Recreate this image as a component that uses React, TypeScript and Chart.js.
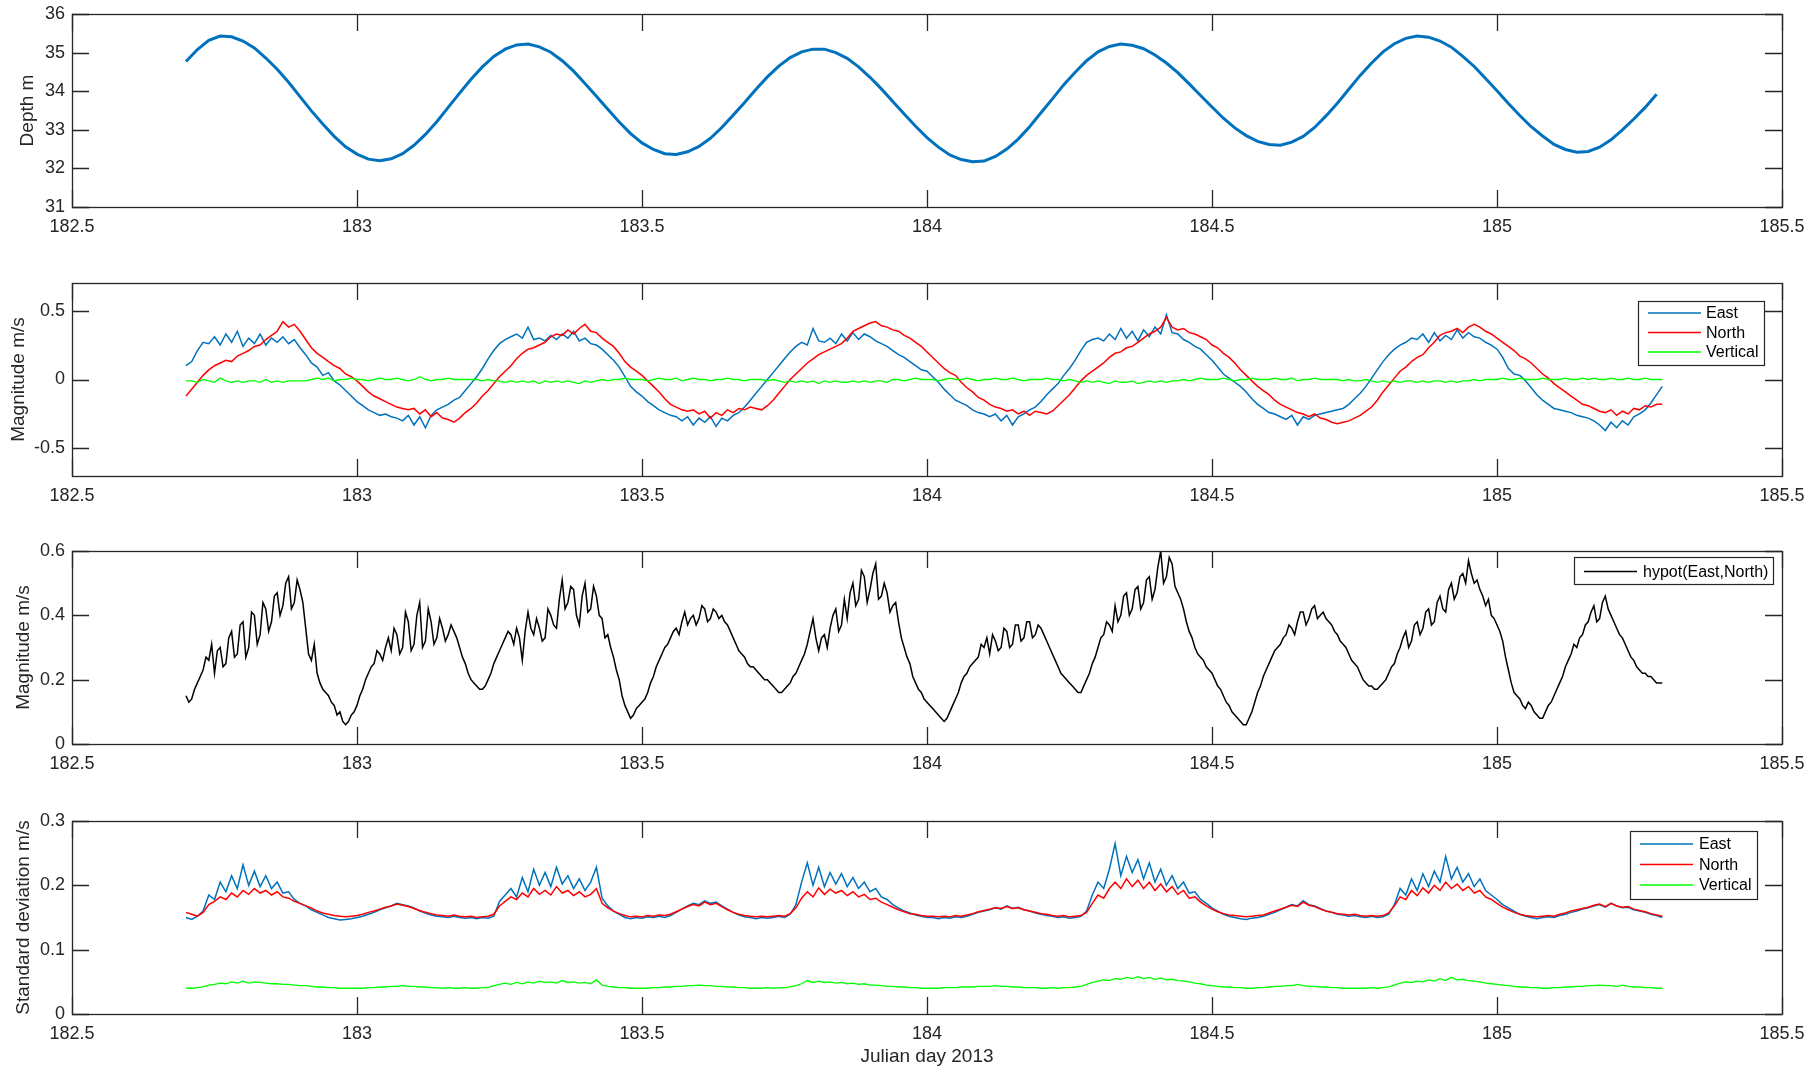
import React, { useEffect, useRef } from "react";
import { Chart, registerables } from "chart.js";

Chart.register(...registerables);

const FONT = '"Liberation Sans", Arial, Helvetica, sans-serif';
const TEXT = "#262626";
const BLUE = "#0072BD";
const RED = "#FF0000";
const GREEN = "#00FF00";

// ---------- axes ----------
const X_MIN = 182.5;
const X_MAX = 185.5;
const X_TICKS = [182.5, 183, 183.5, 184, 184.5, 185, 185.5];
const X_LABEL = "Julian day 2013";

// ---------- sampling grids ----------
const DEPTH_T0 = 182.7;
const DEPTH_DT = 0.02;
const VEL_T0 = 182.7;
const VEL_DT = 0.01;
const HYPOT_T0 = 182.7;
const HYPOT_DT = 0.005;

// ---------- panel 1: depth (m) ----------
const DEPTH = [
  34.77, 35.08, 35.32, 35.43, 35.41, 35.30, 35.12, 34.86, 34.57, 34.23,
  33.86, 33.49, 33.15, 32.83, 32.56, 32.37, 32.24, 32.20, 32.25, 32.38,
  32.60, 32.88, 33.21, 33.58, 33.95, 34.31, 34.63, 34.90, 35.09, 35.20,
  35.22, 35.15, 35.01, 34.79, 34.52, 34.20, 33.87, 33.53, 33.20, 32.90,
  32.66, 32.49, 32.38, 32.36, 32.43, 32.57, 32.78, 33.06, 33.38, 33.71,
  34.05, 34.37, 34.65, 34.87, 35.02, 35.09, 35.09, 35.00, 34.85, 34.63,
  34.36, 34.06, 33.73, 33.41, 33.09, 32.80, 32.55, 32.35, 32.23, 32.17,
  32.19, 32.31, 32.50, 32.76, 33.08, 33.44, 33.80, 34.17, 34.49, 34.79,
  35.02, 35.16, 35.22, 35.19, 35.10, 34.94, 34.73, 34.48, 34.19, 33.89,
  33.59, 33.30, 33.05, 32.85, 32.70, 32.62, 32.60, 32.68, 32.83, 33.06,
  33.36, 33.69, 34.05, 34.41, 34.73, 35.02, 35.23, 35.37, 35.43, 35.40,
  35.30, 35.14, 34.90, 34.64, 34.33, 34.01, 33.68, 33.37, 33.08, 32.84,
  32.62, 32.49, 32.42, 32.44, 32.55, 32.74, 33.00, 33.28, 33.58, 33.92,
];

// ---------- panel 2: velocity components (m/s) ----------
const EAST = [
  0.10, 0.13, 0.21, 0.27, 0.26, 0.31, 0.25, 0.33, 0.27, 0.35,
  0.24, 0.30, 0.26, 0.33, 0.25, 0.30, 0.27, 0.31, 0.26, 0.29,
  0.23, 0.18, 0.12, 0.09, 0.03, 0.05, -0.01, -0.04, -0.08, -0.12,
  -0.16, -0.19, -0.22, -0.24, -0.26, -0.25, -0.27, -0.28, -0.30, -0.26,
  -0.33, -0.27, -0.35, -0.26, -0.22, -0.20, -0.18, -0.15, -0.13, -0.08,
  -0.03, 0.02, 0.08, 0.15, 0.21, 0.26, 0.29, 0.31, 0.33, 0.30,
  0.38, 0.29, 0.30, 0.28, 0.32, 0.29, 0.33, 0.30, 0.35, 0.28,
  0.30, 0.26, 0.25, 0.22, 0.18, 0.14, 0.09, 0.02, -0.05, -0.09,
  -0.12, -0.16, -0.19, -0.22, -0.24, -0.26, -0.27, -0.30, -0.27, -0.33,
  -0.28, -0.31, -0.27, -0.34, -0.28, -0.30, -0.26, -0.24, -0.20, -0.15,
  -0.10, -0.05, 0.00, 0.05, 0.10, 0.15, 0.20, 0.24, 0.27, 0.25,
  0.37, 0.28, 0.27, 0.30, 0.26, 0.33, 0.28, 0.34, 0.29, 0.33,
  0.31, 0.28, 0.26, 0.24, 0.21, 0.18, 0.16, 0.13, 0.10, 0.07,
  0.06, 0.02, -0.02, -0.07, -0.11, -0.15, -0.17, -0.19, -0.22, -0.24,
  -0.25, -0.27, -0.25, -0.30, -0.26, -0.33, -0.27, -0.25, -0.22, -0.20,
  -0.16, -0.11, -0.07, -0.03, 0.03, 0.08, 0.14, 0.21, 0.27, 0.29,
  0.30, 0.28, 0.33, 0.29, 0.37, 0.30, 0.35, 0.28, 0.36, 0.31,
  0.38, 0.33, 0.47, 0.34, 0.33, 0.29, 0.27, 0.24, 0.22, 0.18,
  0.14, 0.09, 0.04, 0.01, -0.02, -0.05, -0.09, -0.14, -0.18, -0.21,
  -0.24, -0.25, -0.27, -0.29, -0.26, -0.33, -0.27, -0.29, -0.26, -0.25,
  -0.24, -0.23, -0.22, -0.21, -0.18, -0.14, -0.10, -0.05, 0.01, 0.07,
  0.13, 0.18, 0.22, 0.25, 0.27, 0.30, 0.29, 0.33, 0.27, 0.34,
  0.28, 0.32, 0.29, 0.36, 0.30, 0.34, 0.31, 0.30, 0.27, 0.25,
  0.22, 0.16, 0.08, 0.04, 0.03, -0.01, -0.06, -0.11, -0.15, -0.18,
  -0.21, -0.22, -0.23, -0.24, -0.26, -0.27, -0.28, -0.30, -0.33, -0.37,
  -0.31, -0.35, -0.30, -0.33, -0.27, -0.25, -0.22, -0.17, -0.11, -0.05,
];

const NORTH = [
  -0.12, -0.07, -0.02, 0.03, 0.07, 0.10, 0.12, 0.14, 0.13, 0.17,
  0.19, 0.21, 0.24, 0.25, 0.29, 0.32, 0.35, 0.42, 0.38, 0.40,
  0.35, 0.29, 0.23, 0.19, 0.16, 0.13, 0.10, 0.08, 0.04, 0.02,
  -0.01, -0.05, -0.09, -0.12, -0.14, -0.16, -0.18, -0.20, -0.21, -0.22,
  -0.21, -0.25, -0.22, -0.27, -0.24, -0.28, -0.29, -0.31, -0.28, -0.24,
  -0.21, -0.17, -0.12, -0.08, -0.03, 0.02, 0.06, 0.10, 0.15, 0.19,
  0.22, 0.23, 0.25, 0.27, 0.31, 0.33, 0.32, 0.36, 0.33, 0.37,
  0.40, 0.35, 0.34, 0.30, 0.27, 0.24, 0.19, 0.13, 0.09, 0.06,
  0.03, -0.01, -0.05, -0.09, -0.14, -0.18, -0.20, -0.22, -0.23, -0.22,
  -0.25, -0.23, -0.28, -0.24, -0.26, -0.22, -0.24, -0.21, -0.22, -0.20,
  -0.21, -0.22, -0.19, -0.15, -0.10, -0.05, 0.00, 0.04, 0.08, 0.12,
  0.15, 0.18, 0.20, 0.22, 0.24, 0.26, 0.30, 0.35, 0.37, 0.39,
  0.41, 0.42, 0.39, 0.38, 0.36, 0.35, 0.32, 0.30, 0.27, 0.24,
  0.20, 0.16, 0.12, 0.08, 0.05, 0.03, -0.02, -0.06, -0.09, -0.13,
  -0.15, -0.18, -0.20, -0.21, -0.23, -0.22, -0.25, -0.23, -0.26, -0.23,
  -0.24, -0.25, -0.23, -0.19, -0.15, -0.11, -0.06, -0.01, 0.03, 0.06,
  0.09, 0.12, 0.16, 0.19, 0.20, 0.23, 0.24, 0.27, 0.30, 0.33,
  0.35, 0.38, 0.45, 0.38, 0.36, 0.37, 0.34, 0.33, 0.31, 0.29,
  0.25, 0.23, 0.19, 0.16, 0.12, 0.07, 0.03, -0.01, -0.05, -0.08,
  -0.11, -0.15, -0.18, -0.20, -0.22, -0.24, -0.25, -0.27, -0.25, -0.28,
  -0.29, -0.31, -0.32, -0.31, -0.30, -0.28, -0.26, -0.23, -0.20, -0.15,
  -0.09, -0.04, 0.01, 0.06, 0.09, 0.13, 0.16, 0.18, 0.23, 0.27,
  0.32, 0.34, 0.35, 0.37, 0.34, 0.38, 0.40, 0.38, 0.35, 0.33,
  0.30, 0.27, 0.24, 0.21, 0.17, 0.15, 0.12, 0.08, 0.04, 0.01,
  -0.03, -0.06, -0.09, -0.12, -0.15, -0.18, -0.19, -0.21, -0.23, -0.24,
  -0.22, -0.26, -0.23, -0.25, -0.21, -0.22, -0.19, -0.20, -0.18, -0.18,
];

const VERTICAL = [
  -0.01, -0.01, -0.02, 0.00, -0.01, -0.02, 0.01, -0.01, -0.02, -0.01,
  -0.02, -0.01, -0.01, -0.02, 0.00, -0.02, -0.01, -0.02, -0.01, -0.01,
  -0.01, -0.01, 0.00, 0.01, 0.00, 0.01, -0.01, 0.00, 0.00, 0.01,
  0.00, 0.00, -0.01, 0.00, 0.01, 0.00, 0.00, 0.01, 0.00, -0.01,
  0.00, 0.02, 0.00, -0.01, 0.00, 0.00, 0.01, 0.00, 0.00, 0.00,
  0.00, 0.00, -0.01, 0.00, -0.01, -0.01, -0.02, -0.01, -0.02, -0.01,
  -0.02, -0.01, -0.03, -0.01, -0.02, -0.01, -0.02, -0.01, -0.02, -0.03,
  -0.01, -0.02, -0.01, 0.00, -0.01, 0.00, 0.00, 0.01, 0.00, 0.00,
  0.00, -0.01, 0.00, 0.01, 0.00, 0.00, 0.01, -0.01, 0.00, 0.01,
  0.00, 0.00, -0.01, 0.00, 0.00, 0.01, 0.00, 0.00, -0.01, 0.00,
  0.00, 0.00, -0.01, 0.00, -0.01, -0.02, -0.01, -0.02, -0.01, -0.02,
  -0.01, -0.03, -0.01, -0.02, -0.01, -0.02, -0.02, -0.01, -0.02, -0.01,
  -0.02, -0.01, -0.01, -0.02, 0.00, 0.00, -0.01, 0.00, 0.01, 0.00,
  0.00, 0.00, -0.01, 0.00, 0.01, 0.00, 0.00, 0.01, 0.00, -0.01,
  0.00, 0.00, 0.01, 0.00, 0.00, 0.01, 0.00, -0.01, 0.00, 0.00,
  0.00, 0.01, 0.00, 0.00, -0.01, 0.00, -0.01, -0.02, -0.01, -0.02,
  -0.01, -0.02, -0.03, -0.01, -0.02, -0.02, -0.01, -0.03, -0.02, -0.01,
  -0.02, -0.01, -0.02, -0.01, -0.01, 0.00, -0.01, 0.00, 0.01, 0.00,
  0.00, 0.00, 0.01, 0.00, -0.01, 0.00, 0.00, 0.01, 0.00, 0.00,
  0.00, 0.01, 0.00, 0.00, 0.01, -0.01, 0.00, 0.00, 0.01, 0.00,
  0.00, 0.00, 0.00, -0.01, 0.00, -0.01, -0.01, 0.00, -0.01, -0.02,
  -0.01, -0.02, -0.01, -0.02, -0.01, -0.01, -0.02, -0.01, -0.02, -0.01,
  -0.01, -0.02, -0.01, -0.02, -0.01, -0.01, 0.00, -0.01, 0.00, 0.00,
  0.00, 0.01, 0.00, 0.00, 0.01, 0.00, 0.00, 0.00, 0.01, 0.00,
  0.00, 0.00, 0.01, 0.00, 0.00, 0.01, 0.00, 0.01, 0.00, 0.00,
  0.01, 0.00, 0.00, 0.01, 0.00, 0.00, 0.01, 0.00, 0.00, 0.00,
];

// ---------- panel 3: horizontal speed (m/s), 0.005-day samples ----------
const HYPOT = [
  0.15, 0.13, 0.14, 0.17, 0.19, 0.21, 0.23, 0.27, 0.26, 0.31, 0.22, 0.29, 0.30, 0.24, 0.25, 0.33, 0.35, 0.27, 0.28, 0.37,
  0.38, 0.27, 0.30, 0.41, 0.40, 0.31, 0.34, 0.44, 0.42, 0.35, 0.38, 0.46, 0.47, 0.40, 0.43, 0.50, 0.52, 0.42, 0.44, 0.51,
  0.48, 0.44, 0.36, 0.28, 0.26, 0.31, 0.22, 0.19, 0.17, 0.16, 0.15, 0.13, 0.12, 0.09, 0.10, 0.07, 0.06, 0.07, 0.09, 0.10,
  0.12, 0.15, 0.17, 0.20, 0.22, 0.24, 0.25, 0.29, 0.28, 0.26, 0.30, 0.33, 0.29, 0.36, 0.34, 0.28, 0.30, 0.41, 0.38, 0.29,
  0.31, 0.40, 0.44, 0.30, 0.32, 0.42, 0.38, 0.31, 0.33, 0.39, 0.36, 0.32, 0.34, 0.37, 0.35, 0.33, 0.30, 0.27, 0.25, 0.22,
  0.20, 0.19, 0.18, 0.17, 0.17, 0.18, 0.20, 0.22, 0.25, 0.27, 0.29, 0.31, 0.33, 0.35, 0.34, 0.31, 0.36, 0.33, 0.26, 0.35,
  0.41, 0.36, 0.34, 0.39, 0.36, 0.32, 0.33, 0.42, 0.40, 0.37, 0.36, 0.45, 0.51, 0.42, 0.44, 0.49, 0.48, 0.40, 0.37, 0.46,
  0.50, 0.41, 0.42, 0.49, 0.46, 0.40, 0.39, 0.33, 0.34, 0.30, 0.27, 0.23, 0.20, 0.15, 0.12, 0.10, 0.08, 0.09, 0.11, 0.12,
  0.13, 0.14, 0.16, 0.19, 0.21, 0.24, 0.26, 0.28, 0.30, 0.31, 0.33, 0.35, 0.36, 0.34, 0.38, 0.41, 0.37, 0.39, 0.40, 0.37,
  0.39, 0.43, 0.42, 0.38, 0.39, 0.42, 0.41, 0.39, 0.40, 0.38, 0.37, 0.35, 0.33, 0.31, 0.29, 0.28, 0.27, 0.25, 0.24, 0.24,
  0.23, 0.22, 0.21, 0.20, 0.20, 0.19, 0.18, 0.17, 0.16, 0.16, 0.17, 0.18, 0.19, 0.21, 0.22, 0.24, 0.26, 0.28, 0.31, 0.35,
  0.39, 0.33, 0.29, 0.33, 0.34, 0.30, 0.36, 0.40, 0.42, 0.35, 0.37, 0.45, 0.39, 0.47, 0.50, 0.43, 0.45, 0.54, 0.52, 0.44,
  0.48, 0.53, 0.56, 0.45, 0.46, 0.50, 0.47, 0.41, 0.43, 0.44, 0.38, 0.33, 0.30, 0.27, 0.25, 0.21, 0.19, 0.17, 0.16, 0.14,
  0.13, 0.12, 0.11, 0.10, 0.09, 0.08, 0.07, 0.08, 0.10, 0.12, 0.14, 0.16, 0.19, 0.21, 0.22, 0.24, 0.25, 0.26, 0.27, 0.31,
  0.30, 0.33, 0.28, 0.34, 0.32, 0.29, 0.30, 0.36, 0.35, 0.30, 0.31, 0.37, 0.37, 0.32, 0.33, 0.38, 0.38, 0.33, 0.34, 0.37,
  0.36, 0.34, 0.32, 0.30, 0.28, 0.26, 0.24, 0.22, 0.21, 0.20, 0.19, 0.18, 0.17, 0.16, 0.16, 0.18, 0.20, 0.22, 0.25, 0.27,
  0.30, 0.33, 0.34, 0.38, 0.37, 0.35, 0.43, 0.38, 0.40, 0.46, 0.47, 0.40, 0.42, 0.48, 0.49, 0.42, 0.44, 0.51, 0.52, 0.45,
  0.48, 0.55, 0.60, 0.50, 0.52, 0.58, 0.56, 0.49, 0.47, 0.45, 0.42, 0.38, 0.35, 0.33, 0.30, 0.28, 0.27, 0.26, 0.24, 0.23,
  0.22, 0.20, 0.18, 0.17, 0.15, 0.13, 0.12, 0.10, 0.09, 0.08, 0.07, 0.06, 0.06, 0.08, 0.10, 0.13, 0.16, 0.18, 0.21, 0.23,
  0.25, 0.27, 0.29, 0.30, 0.31, 0.33, 0.34, 0.37, 0.36, 0.34, 0.38, 0.41, 0.41, 0.37, 0.39, 0.42, 0.43, 0.39, 0.40, 0.41,
  0.39, 0.38, 0.37, 0.35, 0.34, 0.32, 0.31, 0.30, 0.28, 0.26, 0.25, 0.24, 0.22, 0.20, 0.19, 0.18, 0.18, 0.17, 0.17, 0.18,
  0.19, 0.20, 0.22, 0.24, 0.25, 0.28, 0.30, 0.33, 0.35, 0.30, 0.32, 0.37, 0.38, 0.34, 0.36, 0.41, 0.42, 0.37, 0.38, 0.44,
  0.46, 0.42, 0.41, 0.48, 0.50, 0.45, 0.47, 0.52, 0.53, 0.50, 0.57, 0.53, 0.50, 0.51, 0.48, 0.46, 0.43, 0.45, 0.40, 0.39,
  0.37, 0.35, 0.32, 0.27, 0.23, 0.19, 0.16, 0.15, 0.14, 0.12, 0.11, 0.13, 0.12, 0.10, 0.09, 0.08, 0.08, 0.10, 0.12, 0.13,
  0.15, 0.17, 0.19, 0.21, 0.24, 0.26, 0.28, 0.31, 0.30, 0.33, 0.34, 0.37, 0.38, 0.41, 0.43, 0.38, 0.39, 0.44, 0.46, 0.42,
  0.40, 0.38, 0.36, 0.34, 0.33, 0.31, 0.29, 0.27, 0.26, 0.24, 0.23, 0.22, 0.22, 0.21, 0.21, 0.20, 0.19, 0.19, 0.19,
];

// ---------- panel 4: standard deviations (m/s) ----------
const SD_EAST = [
  0.150, 0.147, 0.152, 0.160, 0.185, 0.178, 0.205, 0.190, 0.215, 0.195,
  0.232, 0.200, 0.222, 0.198, 0.215, 0.195, 0.205, 0.188, 0.190, 0.178,
  0.172, 0.168, 0.162, 0.158, 0.154, 0.150, 0.148, 0.146, 0.147, 0.148,
  0.150, 0.152, 0.155, 0.158, 0.162, 0.165, 0.168, 0.172, 0.170, 0.168,
  0.165, 0.160, 0.157, 0.154, 0.152, 0.151, 0.150, 0.152, 0.150, 0.149,
  0.150, 0.148, 0.150, 0.149, 0.152, 0.175, 0.185, 0.195, 0.182, 0.212,
  0.190, 0.225, 0.200, 0.220, 0.198, 0.228, 0.202, 0.215, 0.195, 0.210,
  0.192, 0.205, 0.228, 0.180, 0.168, 0.160, 0.155, 0.150, 0.148, 0.150,
  0.149, 0.151, 0.150, 0.152, 0.150, 0.153, 0.158, 0.163, 0.168, 0.172,
  0.170, 0.176, 0.172, 0.174, 0.168, 0.163, 0.158, 0.154, 0.151, 0.150,
  0.148, 0.150, 0.149, 0.150, 0.152, 0.150, 0.155, 0.170, 0.205, 0.235,
  0.200, 0.228, 0.198, 0.220, 0.202, 0.218, 0.198, 0.212, 0.195, 0.205,
  0.190, 0.195, 0.182, 0.178, 0.170, 0.165, 0.160, 0.157, 0.154, 0.152,
  0.150, 0.150, 0.148, 0.150, 0.149, 0.151, 0.150, 0.152, 0.155, 0.158,
  0.160, 0.162, 0.165, 0.163, 0.168, 0.164, 0.166, 0.162, 0.160, 0.157,
  0.155, 0.153, 0.152, 0.150, 0.151, 0.149, 0.150, 0.152, 0.160, 0.185,
  0.205, 0.195, 0.225, 0.265, 0.215, 0.245, 0.220, 0.240, 0.210, 0.235,
  0.205, 0.225, 0.200, 0.215, 0.195, 0.205, 0.188, 0.190, 0.178, 0.172,
  0.165, 0.160, 0.155, 0.152, 0.150, 0.148, 0.147, 0.149, 0.150, 0.152,
  0.155, 0.158, 0.162, 0.166, 0.170, 0.168, 0.176, 0.170, 0.168, 0.164,
  0.160, 0.158, 0.155, 0.154, 0.152, 0.153, 0.151, 0.150, 0.152, 0.150,
  0.151, 0.155, 0.170, 0.195, 0.185, 0.210, 0.192, 0.218, 0.198, 0.222,
  0.205, 0.245, 0.210, 0.228, 0.205, 0.218, 0.198, 0.210, 0.192, 0.185,
  0.178, 0.170, 0.165, 0.160, 0.155, 0.152, 0.150, 0.148, 0.150, 0.151,
  0.150, 0.153, 0.155, 0.158, 0.160, 0.163, 0.165, 0.168, 0.170, 0.166,
  0.172, 0.168, 0.165, 0.166, 0.162, 0.160, 0.158, 0.155, 0.153, 0.150,
];

const SD_NORTH = [
  0.158, 0.155, 0.152, 0.158, 0.170, 0.175, 0.182, 0.178, 0.188, 0.182,
  0.192, 0.186, 0.195, 0.188, 0.192, 0.185, 0.190, 0.182, 0.180, 0.175,
  0.172, 0.168, 0.165, 0.160, 0.157, 0.155, 0.153, 0.152, 0.151, 0.152,
  0.153, 0.155, 0.158, 0.160, 0.163, 0.166, 0.168, 0.171, 0.169, 0.167,
  0.164, 0.161, 0.158, 0.156, 0.154, 0.153, 0.152, 0.154, 0.152, 0.151,
  0.152, 0.150, 0.151, 0.152, 0.155, 0.168, 0.175, 0.182, 0.178, 0.188,
  0.182, 0.195, 0.186, 0.192, 0.185, 0.198, 0.188, 0.192, 0.184, 0.190,
  0.182, 0.186, 0.195, 0.172, 0.165, 0.160, 0.156, 0.153, 0.151, 0.152,
  0.151, 0.153, 0.152, 0.154, 0.153, 0.155, 0.159, 0.163, 0.167, 0.170,
  0.168, 0.174, 0.170, 0.172, 0.167, 0.162, 0.158, 0.155, 0.153, 0.152,
  0.151, 0.152, 0.151, 0.152, 0.153, 0.152, 0.156, 0.165, 0.180, 0.190,
  0.182, 0.196, 0.186, 0.194, 0.188, 0.192, 0.184, 0.190, 0.182, 0.186,
  0.178, 0.180, 0.174, 0.170, 0.166, 0.162, 0.159, 0.156, 0.155, 0.153,
  0.152, 0.152, 0.151, 0.152, 0.151, 0.153, 0.152, 0.154, 0.156, 0.159,
  0.161, 0.163, 0.165, 0.164, 0.167, 0.164, 0.165, 0.162, 0.160, 0.158,
  0.156, 0.155, 0.153, 0.152, 0.153, 0.151, 0.152, 0.153, 0.158, 0.172,
  0.185, 0.180, 0.195, 0.205, 0.195, 0.210, 0.198, 0.208, 0.195, 0.205,
  0.192, 0.202, 0.190, 0.198, 0.186, 0.192, 0.180, 0.182, 0.174, 0.168,
  0.163, 0.159, 0.156, 0.154, 0.153, 0.152, 0.151, 0.152, 0.153, 0.154,
  0.157, 0.160, 0.163, 0.166, 0.169, 0.167, 0.174, 0.169, 0.167, 0.163,
  0.160, 0.158, 0.156, 0.155, 0.154, 0.155, 0.153, 0.152, 0.153, 0.152,
  0.153, 0.157, 0.168, 0.182, 0.178, 0.192, 0.184, 0.196, 0.188, 0.200,
  0.192, 0.205, 0.195, 0.202, 0.192, 0.198, 0.188, 0.192, 0.182, 0.178,
  0.172, 0.166, 0.162, 0.158, 0.155, 0.153, 0.152, 0.151, 0.152, 0.153,
  0.152, 0.155, 0.157, 0.160, 0.162, 0.164, 0.166, 0.169, 0.171, 0.167,
  0.172, 0.168, 0.166, 0.167, 0.163, 0.161, 0.159, 0.156, 0.154, 0.152,
];

const SD_VERTICAL = [
  0.040, 0.040, 0.041, 0.042, 0.045, 0.046, 0.048, 0.047, 0.050, 0.048,
  0.051, 0.048, 0.050, 0.049, 0.048, 0.047, 0.047, 0.046, 0.046, 0.045,
  0.044, 0.044, 0.043, 0.042, 0.042, 0.041, 0.041, 0.040, 0.040, 0.040,
  0.040, 0.040, 0.041, 0.041, 0.042, 0.042, 0.043, 0.043, 0.044, 0.043,
  0.043, 0.042, 0.042, 0.041, 0.041, 0.040, 0.041, 0.040, 0.040, 0.041,
  0.040, 0.040, 0.041, 0.041, 0.044, 0.046, 0.048, 0.046, 0.049, 0.047,
  0.050, 0.048, 0.051, 0.049, 0.050, 0.048, 0.052, 0.049, 0.050, 0.048,
  0.049, 0.047, 0.053, 0.045, 0.043, 0.042, 0.041, 0.041, 0.040, 0.040,
  0.040, 0.040, 0.041, 0.041, 0.042, 0.042, 0.043, 0.043, 0.044, 0.044,
  0.045, 0.044, 0.044, 0.043, 0.043, 0.042, 0.042, 0.041, 0.041, 0.040,
  0.040, 0.040, 0.041, 0.040, 0.041, 0.041, 0.042, 0.044, 0.047, 0.052,
  0.049, 0.051, 0.049, 0.050, 0.048, 0.049, 0.047, 0.048, 0.046, 0.047,
  0.045, 0.045, 0.044, 0.043, 0.043, 0.042, 0.042, 0.041, 0.041, 0.040,
  0.040, 0.040, 0.040, 0.041, 0.041, 0.041, 0.042, 0.042, 0.042, 0.043,
  0.043, 0.043, 0.044, 0.043, 0.043, 0.042, 0.042, 0.041, 0.041, 0.041,
  0.040, 0.040, 0.041, 0.040, 0.041, 0.041, 0.042, 0.043, 0.046, 0.049,
  0.051, 0.053, 0.052, 0.055, 0.054, 0.057, 0.055, 0.058, 0.055, 0.057,
  0.054, 0.056, 0.053, 0.054, 0.052, 0.051, 0.050, 0.048, 0.047, 0.045,
  0.044, 0.043, 0.042, 0.042, 0.041, 0.041, 0.040, 0.040, 0.041, 0.041,
  0.042, 0.043, 0.043, 0.044, 0.044, 0.046, 0.044, 0.043, 0.043, 0.042,
  0.042, 0.041, 0.041, 0.040, 0.040, 0.040, 0.040, 0.040, 0.041, 0.040,
  0.041, 0.042, 0.045, 0.048, 0.050, 0.049, 0.051, 0.050, 0.053, 0.051,
  0.055, 0.052, 0.057, 0.053, 0.054, 0.052, 0.051, 0.050, 0.048, 0.047,
  0.046, 0.045, 0.044, 0.043, 0.042, 0.042, 0.041, 0.041, 0.040, 0.040,
  0.041, 0.041, 0.042, 0.042, 0.043, 0.043, 0.044, 0.044, 0.045, 0.044,
  0.044, 0.043, 0.045, 0.043, 0.042, 0.042, 0.041, 0.041, 0.040, 0.040,
];

// ---------- y tick values ----------
const Y1_TICKS = [31, 32, 33, 34, 35, 36];
const Y2_TICKS = [-0.5, 0, 0.5];
const Y3_TICKS = [0, 0.2, 0.4, 0.6];
const Y4_TICKS = [0, 0.1, 0.2, 0.3];

const mk = (vals: number[], t0: number, dt: number) =>
  vals.map((y, i) => ({ x: Math.round((t0 + i * dt) * 10000) / 10000, y }));

type Legend = {
  left: number;
  top: number;
  w: number;
  h: number;
  l0: number;
  l1: number;
  tx: number;
  row0: number;
  gap: number;
};

type Panel = {
  plotTop: number;
  xAxisHeight: number;
  yMin: number;
  yMax: number;
  yTicks: number[];
  yLabel: string;
  yTitlePad: number;
  xTitle: boolean;
  datasets: any[];
  legend?: Legend;
};

const PAD_TOP = 22;
const PLOT_LEFT = 72;
const PAD_RIGHT = 38;
const PLOT_H = 193;
const TICK_LEN = 17;

const fmt = (v: any) => String(Math.round(Number(v) * 1000) / 1000);

function line(label: string, data: any[], color: string, width: number, order: number) {
  return {
    label,
    data,
    borderColor: color,
    backgroundColor: color,
    borderWidth: width,
    pointRadius: 0,
    pointHoverRadius: 0,
    tension: 0,
    fill: false,
    order,
  };
}

function makeFramePlugin(yTicks: number[], legend?: Legend) {
  return {
    id: "frameAndLegend",
    afterDatasetsDraw(chart: any) {
      const { ctx, chartArea: a, scales } = chart;
      const x = scales.x;
      const y = scales.y;
      ctx.save();
      ctx.strokeStyle = TEXT;
      ctx.lineWidth = 1.3;
      ctx.beginPath();
      for (const v of X_TICKS) {
        const px = Math.round(x.getPixelForValue(v)) + 0.5;
        ctx.moveTo(px, a.bottom);
        ctx.lineTo(px, a.bottom - TICK_LEN);
        ctx.moveTo(px, a.top);
        ctx.lineTo(px, a.top + TICK_LEN);
      }
      for (const v of yTicks) {
        const py = Math.round(y.getPixelForValue(v)) + 0.5;
        ctx.moveTo(a.left, py);
        ctx.lineTo(a.left + TICK_LEN, py);
        ctx.moveTo(a.right, py);
        ctx.lineTo(a.right - TICK_LEN, py);
      }
      ctx.stroke();
      ctx.strokeRect(a.left + 0.5, a.top + 0.5, a.right - a.left, a.bottom - a.top);

      if (legend) {
        const bx = a.left + legend.left;
        const by = a.top + legend.top;
        ctx.fillStyle = "#ffffff";
        ctx.fillRect(bx, by, legend.w, legend.h);
        ctx.lineWidth = 1.2;
        ctx.strokeStyle = TEXT;
        ctx.strokeRect(bx + 0.5, by + 0.5, legend.w, legend.h);
        ctx.font = `16px ${FONT}`;
        ctx.textBaseline = "middle";
        ctx.textAlign = "left";
        chart.data.datasets.forEach((ds: any, i: number) => {
          const ly = by + legend.row0 + i * legend.gap;
          ctx.strokeStyle = ds.borderColor;
          ctx.lineWidth = 1.6;
          ctx.beginPath();
          ctx.moveTo(bx + legend.l0, ly);
          ctx.lineTo(bx + legend.l1, ly);
          ctx.stroke();
          ctx.fillStyle = "#000000";
          ctx.fillText(ds.label, bx + legend.tx, ly + 1);
        });
      }
      ctx.restore();
    },
  };
}

const PANELS: Panel[] = [
  {
    plotTop: 14,
    xAxisHeight: 44,
    yMin: 31,
    yMax: 36,
    yTicks: Y1_TICKS,
    yLabel: "Depth m",
    yTitlePad: 16.5,
    xTitle: false,
    datasets: [line("Depth", mk(DEPTH, DEPTH_T0, DEPTH_DT), BLUE, 3, 1)],
  },
  {
    plotTop: 283,
    xAxisHeight: 44,
    yMin: -0.7,
    yMax: 0.7,
    yTicks: Y2_TICKS,
    yLabel: "Magnitude m/s",
    yTitlePad: 7,
    xTitle: false,
    datasets: [
      line("East", mk(EAST, VEL_T0, VEL_DT), BLUE, 1.5, 3),
      line("North", mk(NORTH, VEL_T0, VEL_DT), RED, 1.5, 2),
      line("Vertical", mk(VERTICAL, VEL_T0, VEL_DT), GREEN, 1.3, 1),
    ],
    legend: { left: 1566, top: 18, w: 126, h: 64, l0: 10, l1: 63, tx: 68, row0: 12, gap: 19.5 },
  },
  {
    plotTop: 551,
    xAxisHeight: 44,
    yMin: 0,
    yMax: 0.6,
    yTicks: Y3_TICKS,
    yLabel: "Magnitude m/s",
    yTitlePad: 12.5,
    xTitle: false,
    datasets: [line("hypot(East,North)", mk(HYPOT, HYPOT_T0, HYPOT_DT), "#000000", 1.5, 1)],
    legend: { left: 1502, top: 6, w: 199, h: 27, l0: 10, l1: 63, tx: 69, row0: 14.5, gap: 20 },
  },
  {
    plotTop: 821,
    xAxisHeight: 56,
    yMin: 0,
    yMax: 0.3,
    yTicks: Y4_TICKS,
    yLabel: "Standard deviation m/s",
    yTitlePad: 12,
    xTitle: true,
    datasets: [
      line("East", mk(SD_EAST, VEL_T0, VEL_DT), BLUE, 1.5, 3),
      line("North", mk(SD_NORTH, VEL_T0, VEL_DT), RED, 1.5, 2),
      line("Vertical", mk(SD_VERTICAL, VEL_T0, VEL_DT), GREEN, 1.3, 1),
    ],
    legend: { left: 1558, top: 10, w: 127, h: 68, l0: 10, l1: 63, tx: 69, row0: 13, gap: 20.5 },
  },
];

function PanelChart({ p }: { p: Panel }) {
  const ref = useRef<HTMLCanvasElement | null>(null);
  const canvasTop = p.plotTop - PAD_TOP;
  const canvasHeight = PAD_TOP + PLOT_H + p.xAxisHeight;
  useEffect(() => {
    if (!ref.current) return;
    const chart = new Chart(ref.current, {
      type: "line",
      data: { datasets: p.datasets },
      plugins: [makeFramePlugin(p.yTicks, p.legend)],
      options: {
        responsive: false,
        animation: false,
        devicePixelRatio: 1,
        layout: { padding: { left: 0, top: PAD_TOP, right: PAD_RIGHT, bottom: 0 } },
        plugins: { legend: { display: false }, tooltip: { enabled: false } },
        events: [],
        scales: {
          x: {
            type: "linear",
            min: X_MIN,
            max: X_MAX,
            offset: false,
            grid: { display: false, drawTicks: false },
            border: { display: false },
            afterBuildTicks: (s: any) => {
              s.ticks = X_TICKS.map((v) => ({ value: v }));
            },
            afterFit: (s: any) => {
              s.height = p.xAxisHeight;
            },
            ticks: {
              autoSkip: false,
              maxRotation: 0,
              padding: 9,
              color: TEXT,
              font: { family: FONT, size: 18 },
              callback: fmt,
            },
            title: {
              display: p.xTitle,
              text: X_LABEL,
              color: TEXT,
              font: { family: FONT, size: 19 },
              padding: { top: 0, bottom: 2 },
            },
          },
          y: {
            type: "linear",
            min: p.yMin,
            max: p.yMax,
            grid: { display: false, drawTicks: false },
            border: { display: false },
            afterBuildTicks: (s: any) => {
              s.ticks = p.yTicks.map((v) => ({ value: v }));
            },
            afterFit: (s: any) => {
              s.width = PLOT_LEFT;
            },
            ticks: {
              autoSkip: false,
              padding: 7,
              color: TEXT,
              font: { family: FONT, size: 18 },
              callback: fmt,
            },
            title: {
              display: true,
              text: p.yLabel,
              color: TEXT,
              font: { family: FONT, size: 19 },
              padding: { top: p.yTitlePad, bottom: 0 },
            },
          },
        },
      } as any,
    });
    return () => chart.destroy();
  }, [p]);
  return (
    <canvas
      ref={ref}
      width={1820}
      height={canvasHeight}
      style={{ position: "absolute", left: 0, top: canvasTop, width: 1820, height: canvasHeight }}
    />
  );
}

export default function App() {
  return (
    <div
      style={{
        position: "absolute",
        left: 0,
        top: 0,
        width: 1820,
        height: 1070,
        background: "#ffffff",
        overflow: "hidden",
      }}
    >
      {PANELS.map((p, i) => (
        <PanelChart key={i} p={p} />
      ))}
    </div>
  );
}
